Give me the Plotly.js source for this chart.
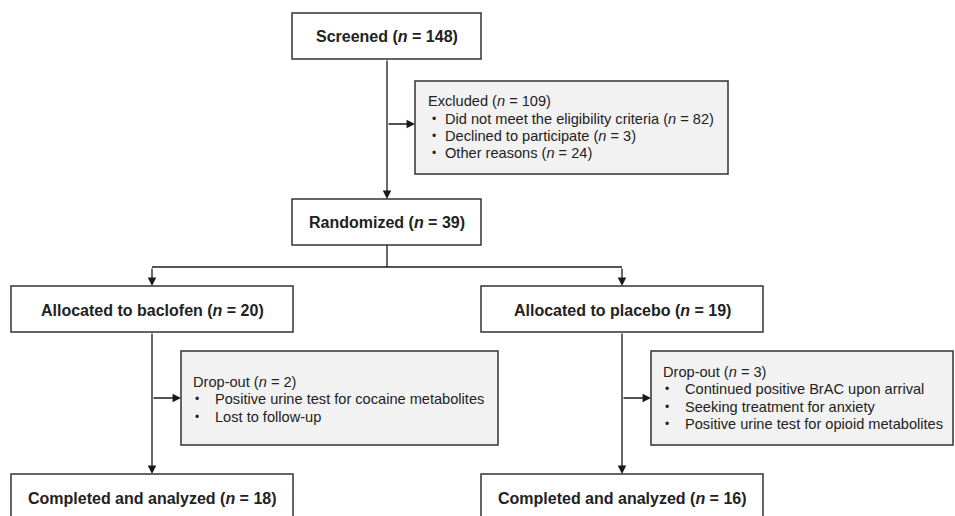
<!DOCTYPE html>
<html>
<head>
<meta charset="utf-8">
<script src="https://cdn.plot.ly/plotly-3.0.1.min.js"></script>
<style>html,body{margin:0;padding:0;background:#fff;}#chart{width:955px;height:516px;}</style>
</head>
<body>
<div id="chart"></div>
<script>
// ---- data ----
const mainLabels = ["Screened", "Randomized", "Allocated to baclofen", "Allocated to placebo", "Completed and analyzed", "Completed and analyzed"];
const mainCounts = [148, 39, 20, 19, 18, 16];
const excludedLabel = "Excluded";
const excludedCount = 109;
const excludedReasons = ["Did not meet the eligibility criteria", "Declined to participate", "Other reasons"];
const excludedReasonCounts = [82, 3, 24];
const dropoutLabel = "Drop-out";
const dropoutCounts = [2, 3];
const dropoutReasonsBaclofen = ["Positive urine test for cocaine metabolites", "Lost to follow-up"];
const dropoutReasonsPlacebo = ["Continued positive BrAC upon arrival", "Seeking treatment for anxiety", "Positive urine test for opioid metabolites"];

// ---- layout geometry ----
const FONT = "Liberation Sans, Arial, sans-serif";
const MAIN_SIZE = 16;
const SMALL_SIZE = 14.6;
const mainBoxes = [
  {x0: 292, x1: 481, y0: 13, y1: 59},
  {x0: 292, x1: 481, y0: 199, y1: 245},
  {x0: 11, x1: 293, y0: 286, y1: 332},
  {x0: 481, x1: 763, y0: 286, y1: 332},
  {x0: 11, x1: 293, y0: 474, y1: 540},
  {x0: 481, x1: 763, y0: 474, y1: 540}
];
const mainTextY = [36, 222, 310, 310, 498, 498];
const grayBoxes = [
  {x0: 415, x1: 728, y0: 81, y1: 174, titleX: 426, titleY: 101, bulletX: 430, textX: 443, lineY0: 119, dy: 17,
   title: excludedLabel, count: excludedCount,
   lines: excludedReasons.map((r, i) => r + " (<i>n</i> = " + excludedReasonCounts[i] + ")")},
  {x0: 181, x1: 498, y0: 351, y1: 445, titleX: 191, titleY: 382, bulletX: 193, textX: 213, lineY0: 399, dy: 17.5,
   title: dropoutLabel, count: dropoutCounts[0], lines: dropoutReasonsBaclofen},
  {x0: 651, x1: 953, y0: 351, y1: 445, titleX: 661, titleY: 372, bulletX: 663, textX: 683, lineY0: 389, dy: 17.5,
   title: dropoutLabel, count: dropoutCounts[1], lines: dropoutReasonsPlacebo}
];

const shapes = [];
const annotations = [];
const LC = "#1a1a1a";

mainBoxes.forEach((b, i) => {
  shapes.push({type: "rect", xref: "x", yref: "y", x0: b.x0, x1: b.x1, y0: b.y0, y1: b.y1,
    line: {color: "#333", width: 1.5}, fillcolor: "#ffffff", layer: "above"});
  annotations.push({xref: "x", yref: "y", x: (b.x0 + b.x1) / 2, y: mainTextY[i], showarrow: false,
    text: "<b>" + mainLabels[i] + " (<i>n</i> = " + mainCounts[i] + ")</b>",
    font: {family: FONT, size: MAIN_SIZE, color: "#222"}, xanchor: "center", yanchor: "middle"});
});

grayBoxes.forEach(g => {
  shapes.push({type: "rect", xref: "x", yref: "y", x0: g.x0, x1: g.x1, y0: g.y0, y1: g.y1,
    line: {color: "#333", width: 1.5}, fillcolor: "#f2f2f2", layer: "above"});
  annotations.push({xref: "x", yref: "y", x: g.titleX, y: g.titleY, showarrow: false,
    text: g.title + " (<i>n</i> = " + g.count + ")",
    font: {family: FONT, size: SMALL_SIZE, color: "#222"}, xanchor: "left", yanchor: "middle"});
  g.lines.forEach((t, k) => {
    annotations.push({xref: "x", yref: "y", x: g.bulletX, y: g.lineY0 + k * g.dy, showarrow: false,
      text: "•", font: {family: FONT, size: 12, color: "#222"}, xanchor: "left", yanchor: "middle"});
    annotations.push({xref: "x", yref: "y", x: g.textX, y: g.lineY0 + k * g.dy, showarrow: false,
      text: t, font: {family: FONT, size: SMALL_SIZE, color: "#222"}, xanchor: "left", yanchor: "middle"});
  });
});

function line(x0, y0, x1, y1) {
  shapes.push({type: "line", xref: "x", yref: "y", x0, y0, x1, y1, line: {color: LC, width: 1.3}});
}
function arrow(x0, y0, x1, y1) {
  annotations.push({xref: "x", yref: "y", axref: "x", ayref: "y", x: x1, y: y1, ax: x0, ay: y0,
    text: "", showarrow: true, arrowhead: 2, arrowsize: 1.3, arrowwidth: 1.3, arrowcolor: LC});
}
// connectors
arrow(387, 59, 387, 199);
arrow(387, 124, 415, 124);
line(387, 245, 387, 267);
line(152, 267, 622, 267);
arrow(152, 267, 152, 286);
arrow(622, 267, 622, 286);
arrow(152, 332, 152, 474);
arrow(152, 398, 181, 398);
arrow(622, 332, 622, 474);
arrow(622, 398, 651, 398);

Plotly.newPlot("chart", [{x: [0, 955], y: [0, 516], type: "scatter", mode: "markers", marker: {opacity: 0}, hoverinfo: "skip", showlegend: false}], {
  width: 955, height: 516,
  margin: {l: 0, r: 0, t: 0, b: 0},
  paper_bgcolor: "#fff", plot_bgcolor: "#fff",
  xaxis: {range: [0, 955], visible: false, fixedrange: true},
  yaxis: {range: [516, 0], visible: false, fixedrange: true},
  shapes, annotations, showlegend: false
}, {staticPlot: true, displayModeBar: false});
</script>
</body>
</html>
